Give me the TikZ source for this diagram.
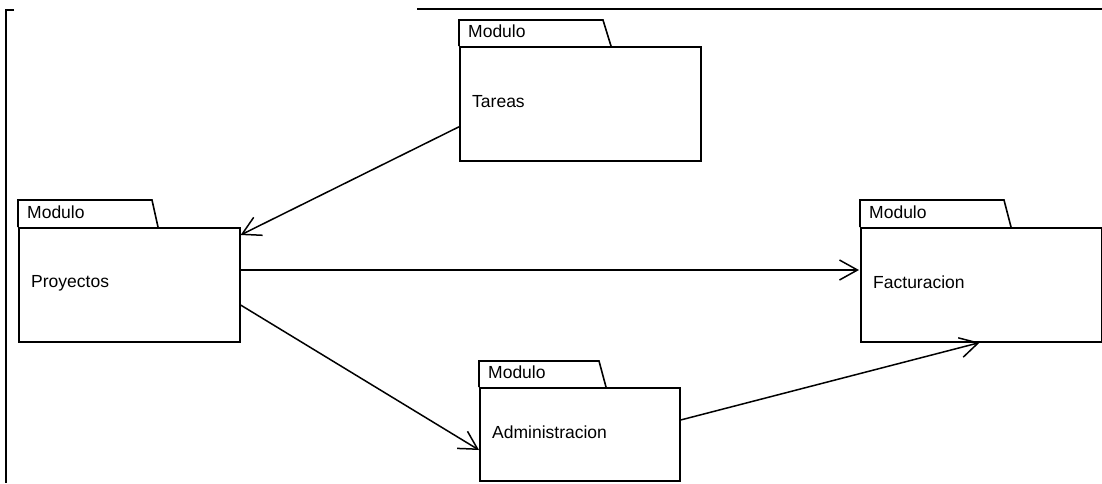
\documentclass[tikz,border=0pt]{standalone}
\usepackage{fontspec}
\setmainfont{Liberation Sans}
\usetikzlibrary{arrows.meta}
\begin{document}
\begin{tikzpicture}[x=1pt,y=-1pt,
  pkgbody/.style={draw=black,line width=1.6pt,fill=white,inner sep=0pt,anchor=north west},
  pkgtab/.style={draw=black,line width=1.6pt,line join=miter},
  lbl/.style={anchor=base west,inner sep=0pt,font=\fontsize{17.5}{19}\selectfont},
  frameln/.style={draw=black,line width=2pt},
  dep/.style={draw=black,line width=1.5pt,-{Straight Barb[length=18pt,width=20pt,line width=1.5pt]}}]
\useasboundingbox (0,0) rectangle (1102,483);
% frame
\coordinate (f1) at (14,10);
\coordinate (f2) at (6,10);
\coordinate (f3) at (6,483);
\coordinate (f4) at (417,9);
\coordinate (f5) at (1102,9);
\draw[frameln] (f1) -- (f2) -- (f3);
\draw[frameln] (f4) -- (f5);
% packages
\node[pkgbody,minimum width=241,minimum height=114] (tareas) at (459,46) {};
\draw[pkgtab] (tareas.north west) -- ++(0,-26) -- ++(144,0) -- ++(8,26);
\node[lbl] (tareasm) at (468,37) {Modulo};
\node[lbl] (tareast) at (472,107) {Tareas};

\node[pkgbody,minimum width=221,minimum height=114] (proy) at (18,227) {};
\draw[pkgtab] (proy.north west) -- ++(0,-27) -- ++(134,0) -- ++(6,27);
\node[lbl] (proym) at (27,218) {Modulo};
\node[lbl] (proyt) at (31,287) {Proyectos};

\node[pkgbody,minimum width=241,minimum height=114] (fact) at (860,227) {};
\draw[pkgtab] (fact.north west) -- ++(0,-27) -- ++(144,0) -- ++(7,27);
\node[lbl] (factm) at (869,218) {Modulo};
\node[lbl] (factt) at (873,288) {Facturacion};

\node[pkgbody,minimum width=200,minimum height=93] (admin) at (479,387) {};
\draw[pkgtab] (admin.north west) -- ++(0,-26) -- ++(120,0) -- ++(7,26);
\node[lbl] (adminm) at (488,378) {Modulo};
\node[lbl] (admint) at (492,438) {Administracion};

% dependencies (yshift: negative = downwards)
\draw[dep] ([yshift=-23]tareas.west) -- ([yshift=-8]proy.north east);
\draw[dep] ([yshift=-43]proy.north east) -- ([yshift=-43,xshift=-1]fact.north west);
\draw[dep] ([yshift=-78]proy.north east) -- ([yshift=-63]admin.north west);
\draw[dep] ([yshift=-33]admin.north east) -- ([xshift=-123]fact.south east);
\end{tikzpicture}
\end{document}
